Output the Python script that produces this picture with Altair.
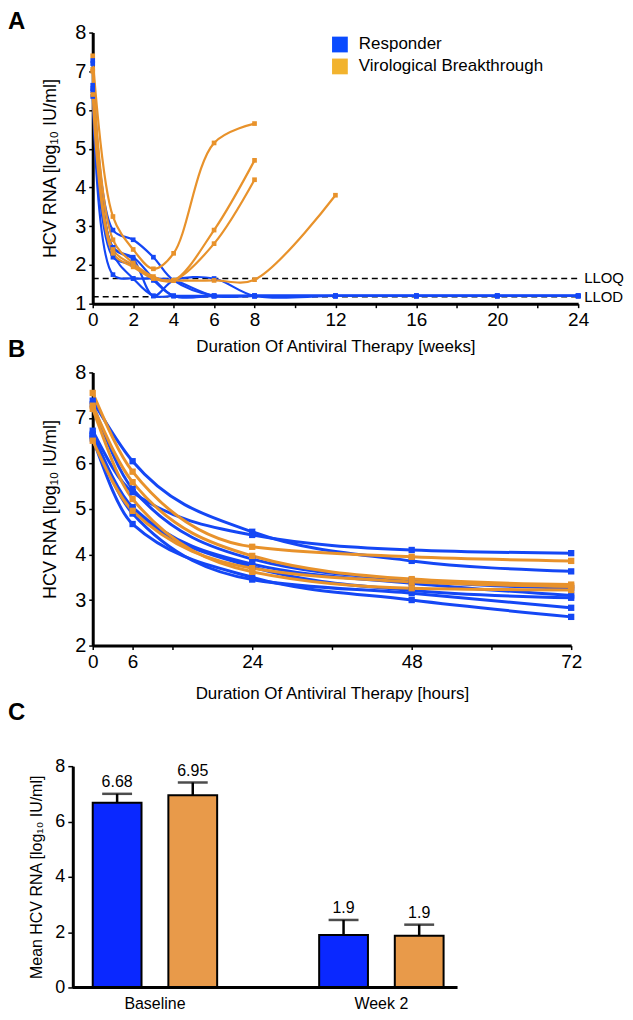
import altair as alt
import pandas as pd

FONT = "Liberation Sans"
BLUE_LINE = "#1447F5"
ORANGE_LINE = "#E8922B"
LEG_BLUE = "#0A4BFF"
LEG_YELLOW = "#F2B32E"
BAR_BLUE = "#0A28FF"
BAR_ORANGE = "#E89A4A"

groups = ["Responder", "Virological Breakthrough"]
legend_colors = [LEG_BLUE, LEG_YELLOW]

# ---------------- Panel A (weeks) ----------------
weeks_resp = [0, 1, 2, 3, 4, 6, 8, 12, 16, 20, 24]
resp_A = [
    [7.28, 2.9, 2.65, 2.2, 1.6, 1.2, 1.2, 1.2, 1.2, 1.2, 1.2],
    [7.2, 2.45, 2.15, 1.2, 1.6, 1.65, 1.2, 1.2, 1.2, 1.2, 1.2],
    [6.64, 1.75, 1.65, 1.65, 1.6, 1.2, 1.2, 1.2, 1.2, 1.2, 1.2],
    [6.55, 2.3, 1.65, 1.2, 1.2, 1.2, 1.2, 1.2, 1.2, 1.2, 1.2],
    [6.5, 2.45, 2.2, 1.65, 1.2, 1.2, 1.2, 1.2, 1.2, 1.2, 1.2],
    [6.35, 2.2, 2.0, 1.6, 1.2, 1.2, 1.2, 1.2, 1.2, 1.2, 1.2],
]
weeks_vb = [
    [0, 1, 2, 3, 4, 6, 8],
    [0, 1, 2, 3, 4, 6, 8],
    [0, 1, 2, 3, 4, 6, 8],
    [0, 1, 2, 3, 4, 6, 8, 12],
]
vb_A = [
    [7.4, 3.25, 2.4, 1.9, 2.3, 5.15, 5.65],
    [7.05, 2.65, 2.05, 1.7, 1.6, 2.9, 4.7],
    [7.0, 2.4, 2.0, 1.65, 1.6, 2.55, 4.2],
    [6.4, 2.3, 1.95, 1.65, 1.6, 1.6, 1.62, 3.8],
]
limit_names = ["LLOQ", "LLOD"]
limit_values = [1.65, 1.18]
weeks_ticks = [0, 2, 4, 6, 8, 10, 12, 14, 16, 18, 20, 22, 24]

# ---------------- Panel B (hours) ----------------
hours = [0, 6, 24, 48, 72]
resp_B = [
    [7.38, 6.05, 4.5, 3.86, 3.63],
    [6.72, 5.37, 4.43, 4.1, 4.03],
    [7.3, 5.44, 3.9, 3.43, 3.26],
    [6.65, 5.04, 3.79, 3.37, 3.1],
    [6.6, 5.0, 3.73, 3.21, 3.05],
    [6.55, 4.67, 3.5, 3.0, 2.63],
    [6.62, 4.9, 3.45, 3.15, 2.83],
]
vb_B = [
    [7.55, 5.82, 4.17, 3.95, 3.86],
    [7.27, 5.59, 3.97, 3.46, 3.34],
    [7.2, 5.22, 3.62, 3.26, 3.22],
    [6.5, 4.96, 3.7, 3.4, 3.3],
]
hours_ticks = [0, 6, 12, 24, 36, 48, 60, 72]

# ---------------- Panel C (bars) ----------------
times_C = ["Baseline", "Baseline", "Week 2", "Week 2"]
groups_C = groups + groups
means_C = [6.68, 6.95, 1.9, 1.87]
upper_C = [7.0, 7.41, 2.44, 2.27]
labels_C = ["6.68", "6.95", "1.9", "1.9"]


def long_df(xs_list, vals_list, group, prefix):
    rows = []
    for i, (xs, vals) in enumerate(zip(xs_list, vals_list)):
        for t, v in zip(xs, vals):
            rows.append({"id": f"{prefix}{i}", "group": group, "t": t, "v": v})
    return rows


dfA = pd.DataFrame(
    long_df([weeks_resp] * len(resp_A), resp_A, groups[0], "R")
    + long_df(weeks_vb, vb_A, groups[1], "V")
)
dfB = pd.DataFrame(
    long_df([hours] * len(resp_B), resp_B, groups[0], "R")
    + long_df([hours] * len(vb_B), vb_B, groups[1], "V")
)
dfLim = pd.DataFrame({"name": limit_names, "v": limit_values})
dfC = pd.DataFrame({"time": times_C, "group": groups_C, "mean": means_C,
                    "upper": upper_C, "label": labels_C})

WA, HA = 487, 272
WB, HB = 480, 274
WC, HC = 352, 222

AXIS_COMMON = dict(domainColor="black", domainWidth=3, tickColor="black",
                   tickWidth=1.5, labelColor="black", titleColor="black",
                   labelFont=FONT, titleFont=FONT, grid=False,
                   titleFontWeight="normal", labelOverlap=False)

color_line = alt.Color("group:N", scale=alt.Scale(domain=groups, range=[BLUE_LINE, ORANGE_LINE]),
                       legend=None)

# ---- A ----
xA = alt.X("t:Q", scale=alt.Scale(domain=[0, 24], nice=False),
           axis=alt.Axis(values=weeks_ticks, title="Duration Of Antiviral Therapy [weeks]",
                         labelExpr="(datum.value==10||datum.value==14||datum.value==18||datum.value==22) ? '' : datum.label",
                         labelFontSize=19, titleFontSize=17, tickSize=4, labelPadding=3,
                         titlePadding=9, labelFlush=False, **AXIS_COMMON))
yA = alt.Y("v:Q", scale=alt.Scale(domain=[1, 8], nice=False),
           axis=alt.Axis(values=[1, 2, 3, 4, 5, 6, 7, 8], title="HCV RNA [log₁₀ IU/ml]",
                         labelFontSize=20, titleFontSize=18, tickSize=4, labelPadding=3,
                         titlePadding=15, **AXIS_COMMON))

rulesA = alt.Chart(dfLim).mark_rule(strokeDash=[6, 4], color="black", strokeWidth=1.5).encode(
    y=yA, x=alt.value(0), x2=alt.value(WA))
linesA = alt.Chart(dfA).mark_line(interpolate="catmull-rom", strokeWidth=2.2).encode(
    x=xA, y=yA, color=color_line, detail="id:N")
ptsA = alt.Chart(dfA).mark_square(size=22, opacity=1).encode(
    x=xA, y=yA, color=color_line, detail="id:N")
limTextA = alt.Chart(dfLim).mark_text(align="left", dx=6, fontSize=15, font=FONT,
                                      color="black").encode(
    y=yA, x=alt.value(WA), text="name:N")

# manual legend (two rows)
leg_layers = []
for i, (g, c) in enumerate(zip(groups, legend_colors)):
    d = pd.DataFrame({"label": [g]})
    leg_layers.append(alt.Chart(d).mark_square(size=250, color=c, opacity=1).encode(
        x=alt.value(248), y=alt.value(12 + 22 * i)))
    leg_layers.append(alt.Chart(d).mark_text(align="left", baseline="middle", fontSize=17,
                                             font=FONT, color="black").encode(
        x=alt.value(267), y=alt.value(12 + 22 * i), text="label:N"))

letterB = alt.Chart(pd.DataFrame({"letter": ["B"]})).mark_text(
    align="left", baseline="alphabetic", fontSize=24, fontWeight="bold", font=FONT,
    color="black").encode(x=alt.value(-85), y=alt.value(326), text="letter:N")

panelA = alt.layer(rulesA, linesA, ptsA, limTextA, letterB, *leg_layers).properties(
    width=WA, height=HA,
    title=alt.TitleParams("A", anchor="start", frame="group", dx=-85, fontSize=24,
                          fontWeight="bold", font=FONT, offset=-11, color="black"))

# ---- B ----
xB = alt.X("t:Q", scale=alt.Scale(domain=[0, 72], nice=False),
           axis=alt.Axis(values=hours_ticks, title="Duration Of Antiviral Therapy [hours]",
                         labelExpr="(datum.value==12||datum.value==36||datum.value==60) ? '' : datum.label",
                         labelFontSize=19, titleFontSize=17, tickSize=4, labelPadding=3,
                         titlePadding=14, labelFlush=False, **AXIS_COMMON))
yB = alt.Y("v:Q", scale=alt.Scale(domain=[2, 8], nice=False),
           axis=alt.Axis(values=[2, 3, 4, 5, 6, 7, 8], title="HCV RNA [log₁₀ IU/ml]",
                         labelFontSize=20, titleFontSize=18, tickSize=4, labelPadding=3,
                         titlePadding=15, **AXIS_COMMON))
linesB = alt.Chart(dfB).mark_line(interpolate="monotone", strokeWidth=3).encode(
    x=xB, y=yB, color=color_line, detail="id:N")
ptsB = alt.Chart(dfB).mark_square(size=40, opacity=1).encode(
    x=xB, y=yB, color=color_line, detail="id:N")
panelB = alt.layer(linesB, ptsB).properties(width=WB, height=HB)

# ---- C ----
xC = alt.X("time:N", scale=alt.Scale(domain=["Baseline", "Week 2"], paddingInner=0.4505,
                                     paddingOuter=0),
           axis=alt.Axis(title=None, domain=False, ticks=False, labelAngle=0,
                         labelFontSize=16, labelPadding=8, labelFont=FONT,
                         labelColor="black"))
xoC = alt.XOffset("group:N", scale=alt.Scale(domain=groups, paddingInner=0.355, paddingOuter=0))
yC = alt.Y("mean:Q", scale=alt.Scale(domain=[0, 8], nice=False),
           axis=alt.Axis(values=[0, 2, 4, 6, 8], title="Mean HCV RNA [log₁₀ IU/ml]",
                         labelFontSize=18, titleFontSize=16, tickSize=5, labelPadding=3,
                         titlePadding=10, offset=20, **AXIS_COMMON))
barsC = alt.Chart(dfC).mark_bar(stroke="black", strokeWidth=2).encode(
    x=xC, xOffset=xoC, y=yC,
    fill=alt.Fill("group:N", scale=alt.Scale(domain=groups, range=[BAR_BLUE, BAR_ORANGE]),
                  legend=None))
errC = alt.Chart(dfC).mark_rule(color="black", strokeWidth=2.5).encode(
    x="time:N", xOffset="group:N", y="mean:Q", y2="upper:Q")
capC = alt.Chart(dfC).mark_tick(color="black", thickness=2.5, size=30).encode(
    x="time:N", xOffset="group:N", y="upper:Q")
txtC = alt.Chart(dfC).mark_text(baseline="bottom", dy=-4, fontSize=16, font=FONT,
                                color="black").encode(
    x="time:N", xOffset="group:N", y="upper:Q", text="label:N")
baseC = alt.Chart(pd.DataFrame({"a": [0]})).mark_rule(color="black", strokeWidth=3).encode(
    x=alt.value(-20), x2=alt.value(366), y=alt.value(HC))
panelC = alt.layer(barsC, errC, capC, txtC, baseC).properties(
    width=WC, height=HC,
    title=alt.TitleParams("C", anchor="start", frame="group", dx=-85, fontSize=24,
                          fontWeight="bold", font=FONT, offset=32, color="black"))

chart = alt.vconcat(panelA, panelB, panelC, spacing=0).resolve_scale(
    color="independent", fill="independent"
).properties(padding=0).configure(font=FONT).configure_view(strokeWidth=0, stroke=None)

chart.save("out.html", embed_options={"renderer": "svg", "actions": False})
